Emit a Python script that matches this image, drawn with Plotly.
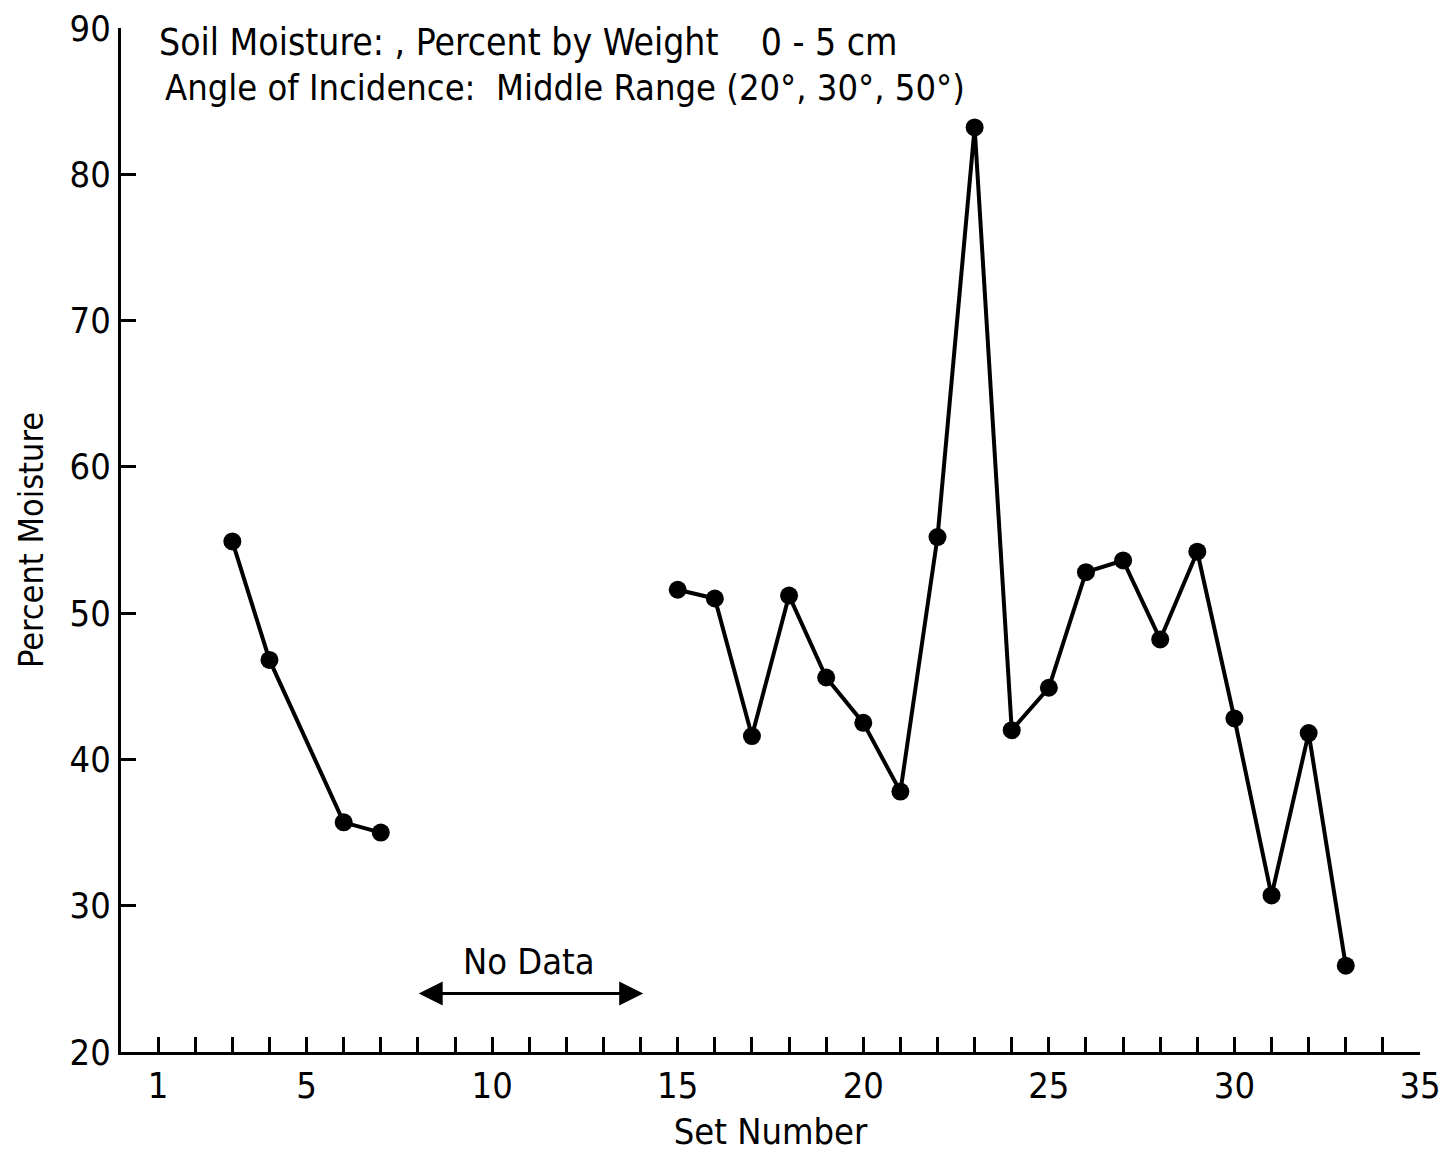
import plotly.graph_objects as go

# Data
set_a = [3, 4, 6, 7]
moist_a = [54.9, 46.8, 35.7, 35.0]
set_b = [15, 16, 17, 18, 19, 20, 21, 22, 23, 24, 25, 26, 27, 28, 29, 30, 31, 32, 33]
moist_b = [51.6, 51.0, 41.6, 51.2, 45.6, 42.5, 37.8, 55.2, 83.2, 42.0, 44.9, 52.8,
           53.6, 48.2, 54.2, 42.8, 30.7, 41.8, 25.9]

x_tickvals = list(range(1, 36))
x_major = [1, 5, 10, 15, 20, 25, 30, 35]
x_ticktext = [str(v) if v in x_major else "" for v in x_tickvals]
y_tickvals = [20, 30, 40, 50, 60, 70, 80, 90]

FONT = "DejaVu Sans Condensed, Liberation Sans Narrow, DejaVu Sans, sans-serif"

fig = go.Figure()
for xs, ys in [(set_a, moist_a), (set_b, moist_b)]:
    fig.add_trace(go.Scatter(
        x=xs, y=ys, mode="lines+markers",
        line=dict(color="black", width=4),
        marker=dict(color="black", size=18),
        showlegend=False,
    ))

fig.update_layout(
    width=1447, height=1153,
    margin=dict(l=121, r=27, t=28, b=101),
    paper_bgcolor="white", plot_bgcolor="white",
    font=dict(family=FONT, color="black", size=36),
    xaxis=dict(
        range=[0, 35], tickvals=x_tickvals, ticktext=x_ticktext,
        ticks="inside", ticklen=15, tickwidth=3, tickcolor="black",
        showline=True, linecolor="black", linewidth=3, showgrid=False, zeroline=False,
        automargin=False,
        tickfont=dict(size=36, family=FONT),
        title=dict(text="Set Number", font=dict(size=36, family=FONT), standoff=14),
    ),
    yaxis=dict(
        range=[20, 90], tickvals=y_tickvals,
        ticks="inside", ticklen=15, tickwidth=3, tickcolor="black",
        showline=True, linecolor="black", linewidth=3, showgrid=False, zeroline=False,
        automargin=False,
        tickfont=dict(size=36, family=FONT),
        title=dict(text="Percent Moisture", font=dict(size=34, family=FONT), standoff=16),
    ),
)

fig.add_annotation(x=0.97, y=89.0, xref="x", yref="y", xanchor="left", yanchor="middle",
                   text="Soil Moisture: , Percent by Weight    0 - 5 cm", showarrow=False,
                   font=dict(size=37, family=FONT))
fig.add_annotation(x=1.13, y=85.9, xref="x", yref="y", xanchor="left", yanchor="middle",
                   text="Angle of Incidence:  Middle Range (20°, 30°, 50°)", showarrow=False,
                   font=dict(size=36, family=FONT))
fig.add_annotation(x=11.0, y=26.2, xref="x", yref="y", text="No Data", showarrow=False,
                   font=dict(size=36, family=FONT))
fig.add_annotation(x=14.07, y=24.0, ax=7.98, ay=24.0, xref="x", yref="y", axref="x", ayref="y",
                   text="", showarrow=True, arrowhead=2, arrowside="end+start",
                   arrowsize=1.6, arrowwidth=3, arrowcolor="black")

fig.write_html("out.html")
